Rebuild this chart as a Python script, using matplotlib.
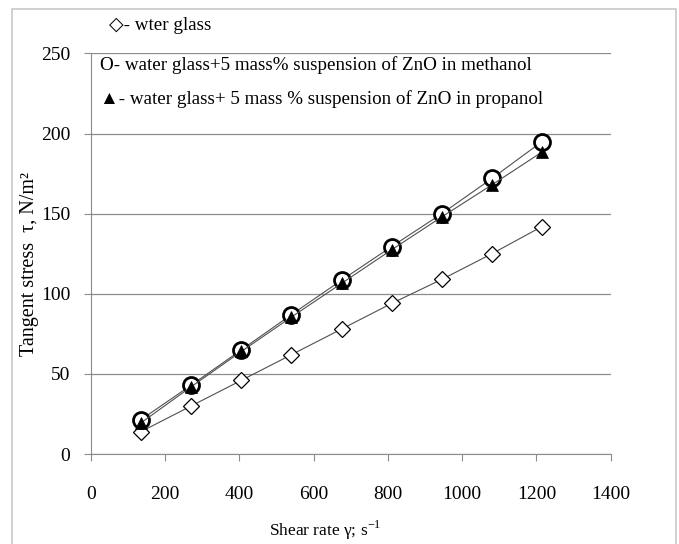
import numpy as np
import matplotlib
matplotlib.use('Agg')
from matplotlib import pyplot as plt
from matplotlib.patches import Rectangle

# shear rate, 1/s
shear_rate = [135, 270, 405, 540, 675, 810, 945, 1080, 1215]

# tangent stress, N/m2
water_glass = [14, 30, 46, 62, 78, 94, 109, 125, 142]
zno_methanol = [21.5, 43, 65, 87, 108.5, 129.5, 150, 172, 195]
zno_propanol = [19.5, 42, 64, 85.5, 106.5, 127.5, 148, 168, 188.5]

legend_lines = [
    '\u25c7- wter glass',
    'O- water glass+5 mass% suspension of ZnO in methanol',
    '\u25b2- water glass+ 5 mass % suspension of ZnO in propanol',
]

plt.rcParams['font.family'] = ['Liberation Serif', 'DejaVu Serif']

fig = plt.figure(figsize=(6.79, 5.44), dpi=100)
ax = fig.add_axes([0.134, 0.1654, 0.7654, 0.7363])

# outer frame
fig.patches.append(Rectangle((12 / 679, -0.02), 664 / 679, 1 - 9 / 544 + 0.02,
                             transform=fig.transFigure, fill=False,
                             edgecolor='#c8c8c8', linewidth=1.2))

line_col = '#505050'
ax.plot(shear_rate, water_glass, color=line_col, lw=0.8, marker='D', ms=8.5,
        mfc='white', mec='black', mew=0.9, zorder=3)
ax.plot(shear_rate, zno_methanol, color=line_col, lw=0.8, marker='o', ms=11.5,
        mfc='white', mec='black', mew=2.0, zorder=4)
ax.plot(shear_rate, zno_propanol, color=line_col, lw=0.8, marker='^', ms=9,
        mfc='black', mec='black', mew=0.5, zorder=5)

ax.set_xlim(0, 1400)
ax.set_ylim(0, 250)
ax.set_xticks(np.arange(0, 1401, 200))
ax.set_yticks(np.arange(0, 251, 50))
ax.yaxis.grid(True, color='#8c8c8c', lw=0.9)
ax.set_axisbelow(True)

for s in ['top', 'right']:
    ax.spines[s].set_visible(False)
for s in ['left', 'bottom']:
    ax.spines[s].set_color('#8c8c8c')
ax.tick_params(axis='both', colors='#8c8c8c', labelcolor='black', labelsize=14,
               length=5, direction='out')
ax.tick_params(axis='x', pad=18)
ax.tick_params(axis='y', pad=10)

ax.set_xlabel('Shear rate \u03b3; s$^{\\mathregular{-1}}$', fontsize=12.5, labelpad=11)
ax.set_ylabel('Tangent stress  \u03c4, N/m\u00b2', fontsize=14.5, labelpad=1)
ax.xaxis.label.set_x(0.45)
ax.yaxis.label.set_y(0.474)

# legend as text lines
ys = [25, 65, 99]
xs = [109, 100, 100]
for txt, yp, xp in zip(legend_lines, ys, xs):
    fig.text(xp / 679, 1 - yp / 544, txt, fontsize=13.7, va='center', ha='left',
             family=['Liberation Serif', 'DejaVu Sans'])

fig.savefig('out.png', dpi=100)
